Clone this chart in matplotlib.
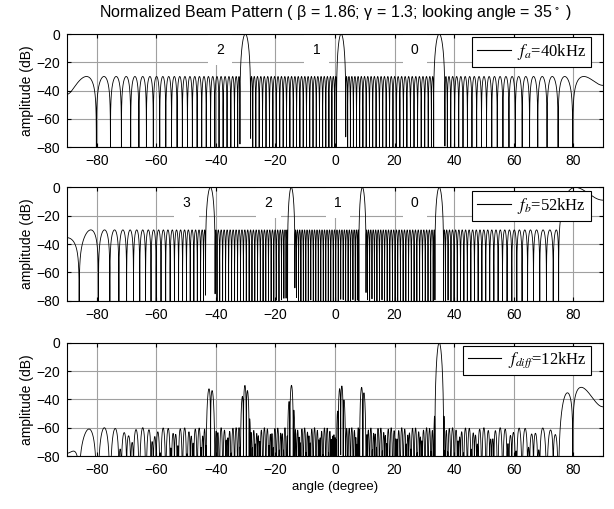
import numpy as np
import matplotlib
matplotlib.use("Agg")
import matplotlib.pyplot as plt
from matplotlib.lines import Line2D

# ---- values ----
beta = 1.86            # element spacing / wavelength at f_a
gamma = 1.3            # f_b / f_a
look_angle = 35.0      # steering angle (deg)
n_elements = 29        # estimated from sidelobe spacing / null positions
sidelobe_db = -30.0    # equal sidelobe level
freq_labels = [r"$f_a$=40kHz", r"$f_b$=52kHz", r"$f_{diff}$=12kHz"]
lobe_labels_a = ["2", "1", "0"]
lobe_x_a = [-38.6, -6.2, 26.8]
lobe_labels_b = ["3", "2", "1", "0"]
lobe_x_b = [-49.8, -22.4, 1.1, 26.8]
lobe_y = -11.0
xticks = [-80, -60, -40, -20, 0, 20, 40, 60, 80]
yticks = [0, -20, -40, -60, -80]
angle_step = 0.002

title = "Normalized Beam Pattern ( \u03b2 = 1.86; \u03b3 = 1.3; looking angle = 35$^{\\,\\circ}$ )"

plt.rcParams['font.family'] = ['Liberation Sans', 'DejaVu Sans']
plt.rcParams['mathtext.fontset'] = 'stix'

theta = np.arange(-90.0, 90.0 + angle_step / 2, angle_step)


def cheb_pattern(d_over_lambda):
    R = 10 ** (-sidelobe_db / 20.0)
    n = n_elements - 1
    x0 = np.cosh(np.arccosh(R) / n)
    psi = 2 * np.pi * d_over_lambda * (np.sin(np.radians(theta)) - np.sin(np.radians(look_angle)))
    x = x0 * np.cos(psi / 2)
    t = np.empty_like(x)
    a = np.abs(x) <= 1
    t[a] = np.cos(n * np.arccos(x[a]))
    t[x > 1] = np.cosh(n * np.arccosh(x[x > 1]))
    t[x < -1] = ((-1) ** n) * np.cosh(n * np.arccosh(-x[x < -1]))
    af = np.abs(t) / R
    return 20 * np.log10(np.maximum(af, 1e-12))


db_a = cheb_pattern(beta)
db_b = cheb_pattern(beta * gamma)
db_d = db_a + db_b
curves = [np.maximum(db_a, -200), np.maximum(db_b, -200), np.maximum(db_d, -200)]

fig = plt.figure(figsize=(6.14, 5.09), dpi=100)
W, H = 614.0, 509.0
left, right = 67, 603
tops = [34.0, 187.4, 342.7]
ah = 113.3

axes = []
for i in range(3):
    ax = fig.add_axes([left / W, 1 - (tops[i] + ah) / H, (right - left) / W, ah / H])
    axes.append(ax)
    ax.plot(theta, curves[i], color='black', lw=0.6, zorder=2)
    ax.set_xlim(-90, 90)
    ax.set_ylim(-80, 0)
    ax.set_xticks(xticks)
    ax.set_yticks(yticks)
    ax.grid(True, color='#a0a0a0', lw=0.8)
    ax.tick_params(direction='in', length=3, labelsize=10, top=True, right=True, pad=5)
    for s in ax.spines.values():
        s.set_linewidth(0.8)
    ax.set_ylabel("amplitude (dB)", fontsize=10, labelpad=2)
    h = Line2D([], [], color='black', lw=0.8)
    leg = ax.legend([h], [freq_labels[i]], loc='upper right', bbox_to_anchor=(0.978, 0.972),
                    borderaxespad=0, fancybox=False, framealpha=1, edgecolor='black',
                    prop={'family': 'Liberation Serif', 'size': 12}, handlelength=2.0,
                    handletextpad=0.4, borderpad=0.3)
    leg.get_frame().set_linewidth(0.8)
    leg.set_zorder(5)

for lab, x in zip(lobe_labels_a, lobe_x_a):
    axes[0].text(x, lobe_y, lab, ha='center', va='center', fontsize=10, zorder=1.8,
                 bbox=dict(facecolor='white', edgecolor='none', pad=6))
for lab, x in zip(lobe_labels_b, lobe_x_b):
    axes[1].text(x, lobe_y, lab, ha='center', va='center', fontsize=10, zorder=1.8,
                 bbox=dict(facecolor='white', edgecolor='none', pad=6))

fig.text((left + right) / 2 / W, 1 - 13 / H, title, ha='center', va='center', fontsize=11.5)
axes[2].set_xlabel("angle (degree)", fontsize=9.5, labelpad=3)

fig.savefig("out.png", dpi=100)
